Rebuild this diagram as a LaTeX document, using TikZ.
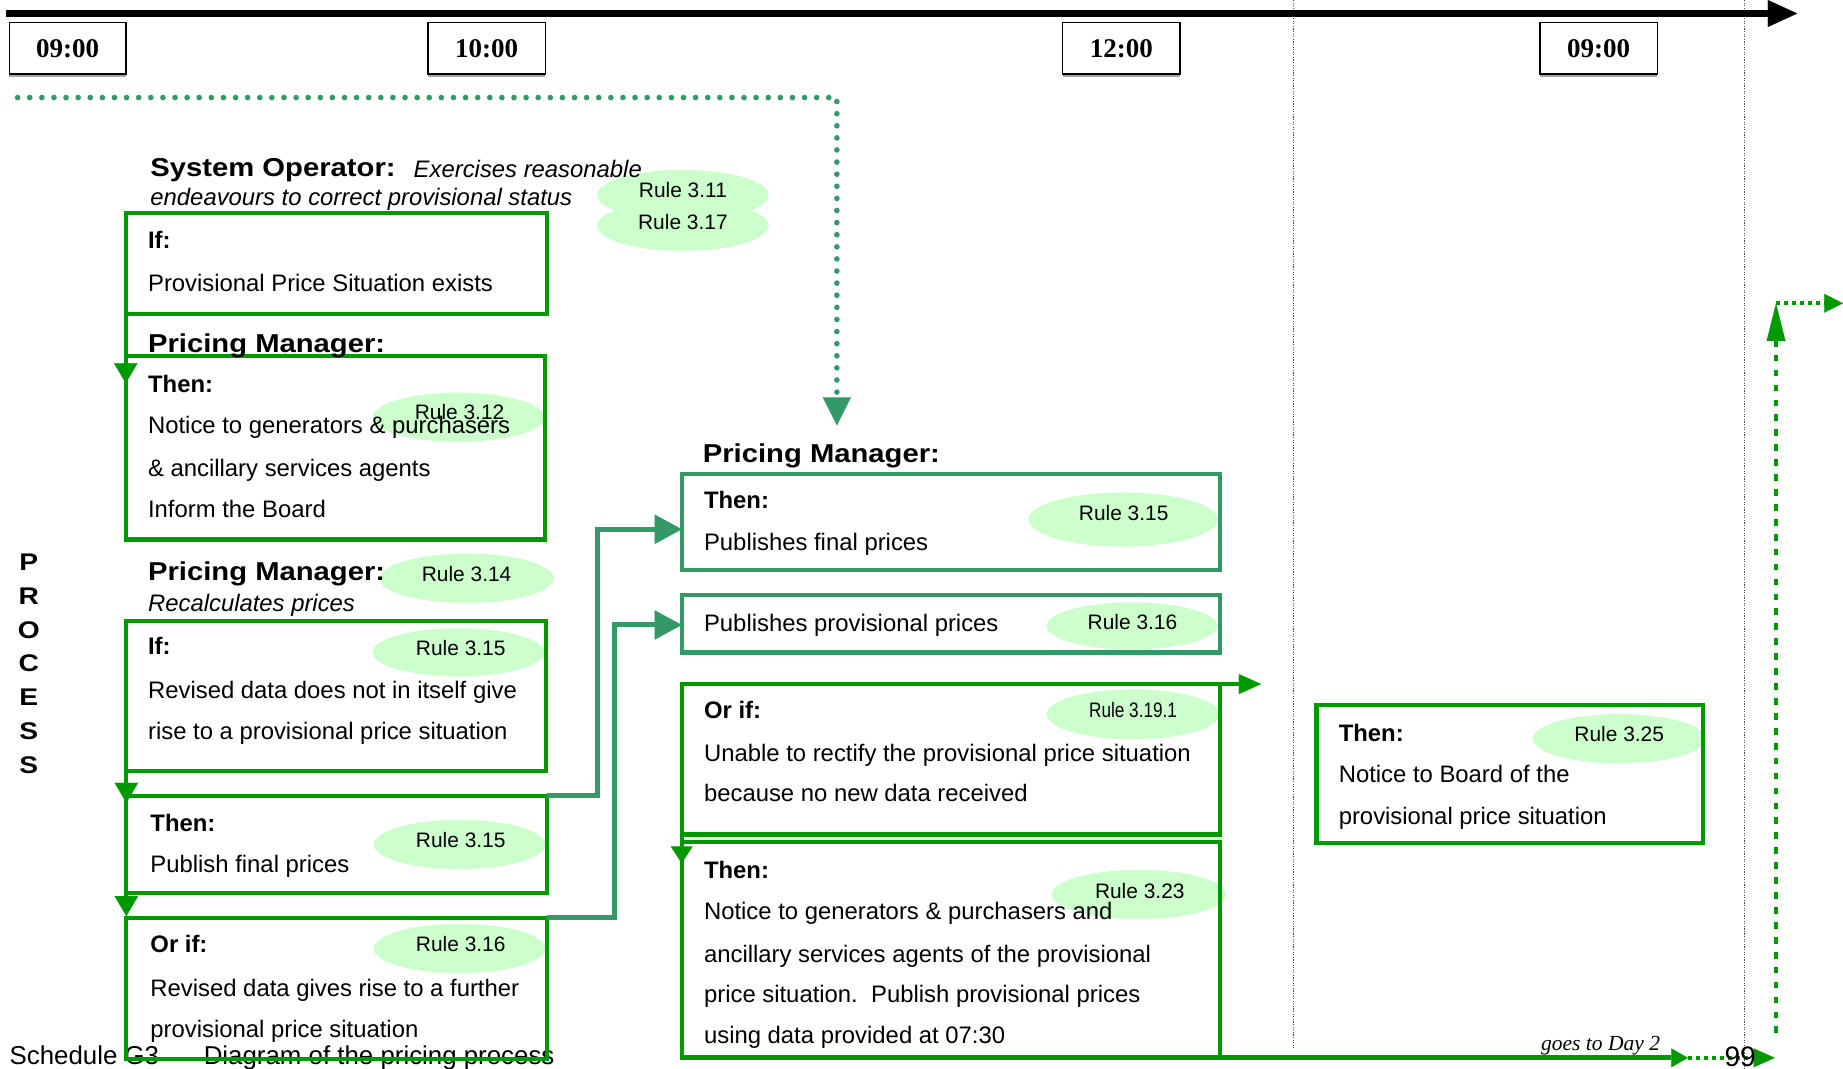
\documentclass[tikz,border=0pt]{standalone}
\usepackage{fontspec}
\setmainfont{Liberation Sans}
\newfontfamily\timesf{Liberation Serif}
\usepackage{graphicx}
\usetikzlibrary{arrows.meta,shapes.geometric,fit}
\definecolor{boxgreen}{HTML}{009900}
\definecolor{sgreen}{HTML}{339966}
\definecolor{rulefill}{HTML}{CCFFCC}
\newcommand\bodyfs{\fontsize{20.3}{24}\selectfont}
\newcommand\hdrfs{\fontsize{22}{26}\selectfont\bfseries}
\newcommand\rulefs{\fontsize{17.8}{20}\selectfont}
\tikzset{
 gbox/.style={draw=boxgreen, line width=3.5pt, inner sep=0pt, outer sep=0pt},
 tbox/.style={draw=sgreen, line width=3.7pt, inner sep=0pt, outer sep=0pt},
 timebox/.style={draw=black, line width=1.3pt, fill=white, inner sep=0pt, outer sep=0pt},
 timetxt/.style={anchor=center, inner sep=0pt, outer sep=0pt, font=\timesf\bfseries\fontsize{23}{23}\selectfont},
 rell/.style={ellipse, fill=rulefill, draw=none, inner sep=0pt, outer sep=0pt},
 txt/.style={anchor=base west, inner sep=0pt, outer sep=0pt, font=\bodyfs, yshift=-1.5pt},
 rtxt/.style={anchor=base, inner sep=0pt, outer sep=0pt, font=\rulefs},
 hdr/.style={anchor=base west, inner sep=0pt, outer sep=0pt, font=\hdrfs, yshift=-0.8pt},
 letter/.style={anchor=center, inner sep=0pt, outer sep=0pt, font=\fontsize{20.5}{20}\selectfont\bfseries},
 garrow/.style={draw=boxgreen, line width=3.6pt, -{Triangle[length=17pt,width=20pt,line width=0.1pt]}},
 tarrow/.style={draw=sgreen, line width=4.25pt, -{Triangle[length=23pt,width=25pt,line width=0.1pt]}},
 guide/.style={draw=gray!60!black, line width=0.7pt, dash pattern=on 1pt off 1.2pt},
}
\begin{document}
\begin{tikzpicture}[x=1pt,y=-1pt]
\useasboundingbox (0,0) rectangle (1568,909);

% guide lines
\coordinate (g1t) at (1100,0); \coordinate (g1b) at (1100,893);
\coordinate (g2t) at (1484,0); \coordinate (g2b) at (1484,909);
\draw[guide] (g1t) -- (g1b);
\draw[guide] (g2t) -- (g2b);

% timeline
\coordinate (tl0) at (5,11.5); \coordinate (tl1) at (1529,11.5);
\draw[line width=6pt, -{Triangle[length=25pt,width=23pt,line width=0.1pt]}] (tl0) -- (tl1);

\node[timebox, fit={(8,19) (107,63)}] (t1) {};
\node[timebox, fit={(364,19) (464,63)}] (t2) {};
\node[timebox, fit={(904,19) (1004,63)}] (t3) {};
\node[timebox, fit={(1310,19) (1410,63)}] (t4) {};
\foreach \t in {t1,t2,t3,t4}
  \draw[gray!70, line width=1.2pt] ([yshift=-1.6pt]\t.south west) -- ([yshift=-1.6pt]\t.south east);
\node[timetxt] (t1l) at ([yshift=-0.8pt]t1.center) {09:00};
\node[timetxt] (t2l) at ([yshift=-0.8pt]t2.center) {10:00};
\node[timetxt] (t3l) at ([yshift=-0.8pt]t3.center) {12:00};
\node[timetxt] (t4l) at ([yshift=-0.8pt]t4.center) {09:00};

% top dotted connector
\coordinate (dotStart) at (15,83); \coordinate (dotTip) at (712,362);
\draw[sgreen, line width=4.8pt, line cap=round, dash pattern=on 0pt off 10.3pt,
      -{Triangle[length=24pt,width=24pt,line width=0.1pt]}] (dotStart) -- (dotStart -| dotTip) -- (dotTip);

% ellipses
\node[rell, minimum width=146pt, minimum height=43pt] (e311) at (581,166) {};
\node[rell, minimum width=146pt, minimum height=43pt] (e317) at (581,192) {};
\node[rell, minimum width=146pt, minimum height=42pt] (e312) at (390,355) {};
\node[rell, minimum width=148pt, minimum height=42pt] (e314) at (397,492) {};
\node[rell, minimum width=146pt, minimum height=41pt] (e315a) at (390,555) {};
\node[rell, minimum width=146pt, minimum height=42pt] (e315b) at (391,718.5) {};
\node[rell, minimum width=146pt, minimum height=42pt] (e316a) at (391,807) {};
\node[rell, minimum width=161pt, minimum height=46pt] (e315c) at (955.5,442) {};
\node[rell, minimum width=145pt, minimum height=40pt] (e316b) at (963,532.5) {};
\node[rell, minimum width=147pt, minimum height=42.5pt] (e3191) at (964,607.7) {};
\node[rell, minimum width=148pt, minimum height=42pt] (e323) at (969,761) {};
\node[rell, minimum width=147pt, minimum height=42pt] (e325) at (1377.7,628.5) {};

% footer text (under box border)
\node[anchor=base west, inner sep=0pt, font=\fontsize{22}{24}\selectfont] (footer) at (8,906) {Schedule G3\hspace{38pt}Diagram of the pricing process};

% boxes
\node[gbox, fit={(107,181) (465,267)}] (bA) {};
\node[gbox, fit={(107,303) (464,459)}] (bB) {};
\node[gbox, fit={(107.5,528) (464.5,656)}] (bC) {};
\node[gbox, fit={(107.5,677) (465,760)}] (bD) {};
\node[gbox, fit={(107.5,781) (465,901)}] (bE) {};
\node[tbox, fit={(580,403) (1038,485)}] (bF) {};
\node[tbox, fit={(580,506) (1038,555)}] (bG) {};
\node[gbox, fit={(580,582) (1038,710)}] (bH) {};
\node[gbox, fit={(580,716) (1038,900)}] (bI) {};
\node[gbox, fit={(1120,600) (1449,717)}] (bJ) {};

% connectors left column
\draw[garrow] (bA.south west) -- ([yshift=-23pt]bB.north west);
\draw[garrow] ([yshift=38pt]bC.south west) -- ([yshift=-6pt]bD.north west);
\draw[garrow] (bD.south west) -- ([yshift=1.6pt]bE.north west);
% teal connectors
\draw[tarrow] (bD.north east) -- ++(43,0) |- ([yshift=-6.3pt]bF.west);
\draw[tarrow] (bE.north east) -- ++(58,0) |- ([yshift=-1.2pt]bG.west);
% middle connectors
\draw[draw=boxgreen, line width=3.6pt, -{Triangle[length=14.5pt,width=18.7pt,line width=0.1pt]}]
   ([yshift=40pt]bH.south west) -- ([yshift=-18.5pt]bI.north west);
\coordinate (hOut) at (1073,582);
\draw[draw=boxgreen, line width=3.5pt, -{Triangle[length=19pt,width=17pt,line width=0.1pt]}] (bH.north east) -- (hOut);
% bottom connector
\coordinate (dayTwo) at (1436,900); \coordinate (pgEnd) at (1510,900);
\draw[draw=boxgreen, line width=4.25pt, -{Triangle[length=14pt,width=16pt,line width=0.1pt]}] (bI.south west) -- (dayTwo);
\draw[draw=boxgreen, line width=3.4pt, dash pattern=on 3.4pt off 3.4pt, -{Triangle[length=18pt,width=16pt,line width=0.1pt]}] (dayTwo) -- (pgEnd);
% right dashed connector
\coordinate (rBot) at (1511,879); \coordinate (rTop) at (1511,258); \coordinate (rEnd) at (1568,258);
\draw[draw=boxgreen, line width=3.4pt, dash pattern=on 5.7pt off 7pt, -{Triangle[length=32pt,width=16pt,line width=0.1pt]}] (rBot) -- (rTop);
\draw[draw=boxgreen, line width=3.4pt, dash pattern=on 3.4pt off 3.4pt, -{Triangle[length=16pt,width=16pt,line width=0.1pt]}] (rTop) -- (rEnd);

% rule texts
\node[rtxt] (r311) at (581,168) {Rule 3.11};
\node[rtxt] (r317) at (581,195) {Rule 3.17};
\node[rtxt] (r312) at (391,356.5) {Rule 3.12};
\node[rtxt] (r314) at (397,494.8) {Rule 3.14};
\node[rtxt] (r315a) at (392,558) {Rule 3.15};
\node[rtxt] (r315b) at (392,721) {Rule 3.15};
\node[rtxt] (r316a) at (392,809.4) {Rule 3.16};
\node[rtxt] (r315c) at (956,443) {Rule 3.15};
\node[rtxt] (r316b) at (963.5,535.4) {Rule 3.16};
\node[rtxt] (r3191) at (964,610.4) {\scalebox{0.82}[1]{Rule 3.19.1}};
\node[rtxt] (r323) at (969.7,764.2) {Rule 3.23};
\node[rtxt] (r325) at (1377.6,631) {Rule 3.25};

% headers
\node[hdr] (so) at (128,149) {\scalebox{1.13}[1]{System Operator:}};
\node[txt] (soit1) at (352,149.5) {\itshape Exercises reasonable};
\node[txt] (soit2) at (128,173.5) {\itshape endeavours to correct provisional status};
\node[hdr] (pm1) at (126,299.5) {\scalebox{1.13}[1]{Pricing Manager:}};
\node[hdr] (pm2) at (126,493.5) {\scalebox{1.13}[1]{Pricing Manager:}};
\node[txt] (recalc) at (126,518.5) {\itshape Recalculates prices};
\node[hdr] (pm3) at (598,392.5) {\scalebox{1.13}[1]{Pricing Manager:}};

% box texts
\node[txt] (aIf) at (126,209.5) {\bfseries If:};
\node[txt] (aT1) at (126,246.5) {Provisional Price Situation exists};
\node[txt] (bThen) at (126,332.5) {\bfseries Then:};
\node[txt] (bT1) at (126,367.5) {Notice to generators \& purchasers};
\node[txt] (bT2) at (126,403.5) {\& ancillary services agents};
\node[txt] (bT3) at (126,438.5) {Inform the Board};
\node[txt] (cIf) at (126,555.5) {\bfseries If:};
\node[txt] (cT1) at (126,592.5) {Revised data does not in itself give};
\node[txt] (cT2) at (126,627.5) {rise to a provisional price situation};
\node[txt] (dThen) at (128,705.5) {\bfseries Then:};
\node[txt] (dT1) at (128,741) {Publish final prices};
\node[txt] (eOr) at (128,809) {\bfseries Or if:};
\node[txt] (eT1) at (128,846) {Revised data gives rise to a further};
\node[txt] (eT2) at (128,881) {provisional price situation};
\node[txt] (fThen) at (599,431) {\bfseries Then:};
\node[txt] (fT1) at (599,467) {Publishes final prices};
\node[txt] (gT1) at (599,535.5) {Publishes provisional prices};
\node[txt] (hOr) at (599,610) {\bfseries Or if:};
\node[txt] (hT1) at (599,646) {Unable to rectify the provisional price situation};
\node[txt] (hT2) at (599,680) {because no new data received};
\node[txt] (iThen) at (599,746) {\bfseries Then:};
\node[txt] (iT1) at (599,780.7) {Notice to generators \& purchasers and};
\node[txt] (iT2) at (599,817) {ancillary services agents of the provisional};
\node[txt] (iT3) at (599,851.5) {price situation.\ \ Publish provisional prices};
\node[txt] (iT4) at (599,886.5) {using data provided at 07:30};
\node[txt] (jThen) at (1139,629) {\bfseries Then:};
\node[txt] (jT1) at (1139,664.5) {Notice to Board of the};
\node[txt] (jT2) at (1139,700) {provisional price situation};

% PROCESS
\node[letter] (pP) at (24.5,478.4) {\scalebox{1.17}[1]{P}};
\node[letter] (pR) at (24.5,507.1) {\scalebox{1.17}[1]{R}};
\node[letter] (pO) at (24.5,535.8) {\scalebox{1.17}[1]{O}};
\node[letter] (pC) at (24.5,564.5) {\scalebox{1.17}[1]{C}};
\node[letter] (pE) at (24.5,593.2) {\scalebox{1.17}[1]{E}};
\node[letter] (pS1) at (24.5,621.9) {\scalebox{1.17}[1]{S}};
\node[letter] (pS2) at (24.5,650.6) {\scalebox{1.17}[1]{S}};

% bottom right labels
\node[anchor=base west, inner sep=0pt, font=\timesf\itshape\fontsize{18.3}{20}\selectfont] (goes) at (1311,894) {goes to Day 2};
\node[anchor=base west, inner sep=0pt, font=\fontsize{24}{24}\selectfont] (pg) at (1467,907.5) {99};
\end{tikzpicture}
\end{document}
